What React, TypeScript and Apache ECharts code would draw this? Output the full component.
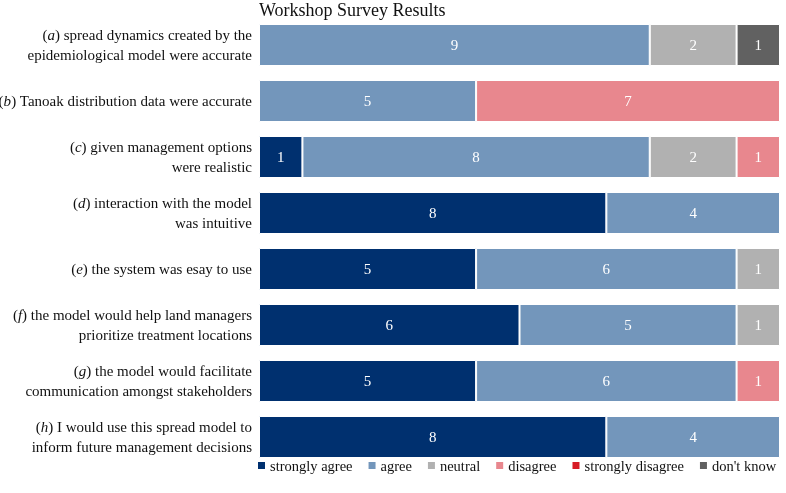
import React, { useEffect, useRef } from "react";
import * as echarts from "echarts";

const letters = ["a", "b", "c", "d", "e", "f", "g", "h"];
const questions: string[][] = [
  ["spread dynamics created by the", "epidemiological model were accurate"],
  ["Tanoak distribution data were accurate"],
  ["given management options", "were realistic"],
  ["interaction with the model", "was intuitive"],
  ["the system was esay to use"],
  ["the model would help land managers", "prioritize treatment locations"],
  ["the model would facilitate", "communication amongst stakeholders"],
  ["I would use this spread model to", "inform future management decisions"],
];
const seriesNames = ["strongly agree", "agree", "neutral", "disagree", "strongly disagree", "don't know"];
const stronglyAgree = [0, 0, 1, 8, 5, 6, 5, 8];
const agree = [9, 5, 8, 4, 6, 5, 6, 4];
const neutral = [2, 0, 2, 0, 1, 1, 0, 0];
const disagree = [0, 7, 1, 0, 0, 0, 1, 0];
const stronglyDisagree = [0, 0, 0, 0, 0, 0, 0, 0];
const dontKnow = [1, 0, 0, 0, 0, 0, 0, 0];
const colors = ["#00306f", "#7396bb", "#b1b1b1", "#e8878e", "#d71c25", "#616161"];

export default function App() {
  const ref = useRef<HTMLDivElement>(null);
  useEffect(() => {
    const chart = echarts.init(ref.current!, null, { renderer: "svg" });
    const font = "Liberation Serif";
    const values = [stronglyAgree, agree, neutral, disagree, stronglyDisagree, dontKnow];
    chart.setOption({
      animation: false,
      textStyle: { fontFamily: font },
      title: {
        text: "Workshop Survey Results",
        left: 254,
        top: -4,
        textStyle: { fontFamily: font, fontSize: 18, fontWeight: "normal", color: "#111" },
      },
      legend: {
        top: 458,
        left: 258,
        width: 540,
        padding: 0,
        itemWidth: 7,
        itemHeight: 7,
        itemGap: 16,
        icon: "rect",
        itemStyle: { borderWidth: 0 },
        textStyle: { fontFamily: font, fontSize: 14.5, color: "#111" },
        data: seriesNames,
      },
      grid: { left: 259, right: 6, top: 17, bottom: 28, outerBoundsMode: "none", containLabel: false },
      xAxis: { type: "value", min: 0, max: 12, show: false },
      yAxis: {
        type: "category",
        inverse: true,
        data: letters.map((_, i) => String(i)),
        axisLine: { show: false },
        axisTick: { show: false },
        axisLabel: {
          margin: 7,
          fontFamily: font,
          formatter: (v: string) => {
            const i = Number(v);
            const q = questions[i];
            const first = `{n|(}{i|${letters[i]}}{n|) ${q[0]}}`;
            return q.length > 1 ? first + `\n{n|${q[1]}}` : first;
          },
          rich: {
            n: { fontFamily: font, fontSize: 15, color: "#111", lineHeight: 20, align: "right" },
            i: { fontFamily: font, fontSize: 15, fontStyle: "italic", color: "#111", lineHeight: 20, align: "right" },
          },
        },
      },
      series: seriesNames.map((name, k) => ({
        name,
        type: "bar",
        stack: "total",
        barCategoryGap: "25%",
        itemStyle: { color: colors[k], borderColor: "#fff", borderWidth: 1 },
        label: {
          show: true,
          position: "inside",
          color: "#fff",
          fontFamily: font,
          fontSize: 15,
        },
        data: values[k].map((v) => (v === 0 ? null : v)),
      })),
    });
    return () => chart.dispose();
  }, []);
  return <div ref={ref} style={{ position: "fixed", left: 0, top: 0, width: 786, height: 493 }} />;
}
